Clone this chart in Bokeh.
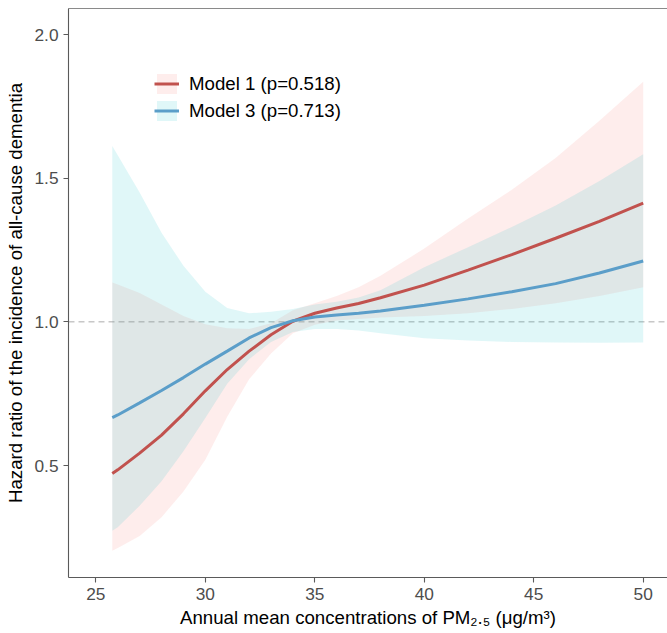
from bokeh.plotting import figure
from bokeh.models import (ColumnDataSource, Span, Legend, LegendItem, LinearAxis,
                          FixedTicker, PrintfTickFormatter, Range1d)
from bokeh.embed import file_html
from bokeh.resources import INLINE

# ---------------- data ----------------
pm25 = [25.75, 26, 27, 28, 29, 30, 31, 32, 33, 34, 35, 36, 37, 38, 40, 42, 44, 46, 48, 50]

m1_hr = [0.472, 0.485, 0.543, 0.606, 0.680, 0.760, 0.834, 0.898, 0.955, 1.002,
         1.030, 1.048, 1.064, 1.084, 1.128, 1.180, 1.234, 1.291, 1.350, 1.413]
m1_lo = [0.203, 0.213, 0.255, 0.320, 0.410, 0.520, 0.670, 0.800, 0.890, 0.960,
         0.990, 1.005, 1.010, 1.015, 1.020, 1.030, 1.045, 1.065, 1.090, 1.120]
m1_hi = [1.137, 1.130, 1.100, 1.060, 1.020, 0.992, 0.978, 0.975, 0.995, 1.040,
         1.065, 1.090, 1.120, 1.160, 1.255, 1.360, 1.460, 1.570, 1.700, 1.836]

m3_hr = [0.667, 0.676, 0.718, 0.761, 0.806, 0.853, 0.898, 0.944, 0.980, 1.004,
         1.017, 1.024, 1.030, 1.038, 1.058, 1.080, 1.105, 1.133, 1.170, 1.212]
m3_lo = [0.273, 0.285, 0.360, 0.445, 0.550, 0.665, 0.785, 0.870, 0.930, 0.965,
         0.975, 0.975, 0.970, 0.960, 0.943, 0.935, 0.930, 0.928, 0.927, 0.928]
m3_hi = [1.612, 1.580, 1.450, 1.310, 1.195, 1.105, 1.048, 1.030, 1.035, 1.045,
         1.060, 1.070, 1.085, 1.110, 1.190, 1.260, 1.330, 1.405, 1.490, 1.583]

labels = ["Model 1 (p=0.518)", "Model 3 (p=0.713)"]
x_ticks = [25, 30, 35, 40, 45, 50]
y_ticks = [0.5, 1.0, 1.5, 2.0]
ref_hr = 1.0
x_title = "Annual mean concentrations of PM\u2082.\u2085 (\u03bcg/m\u00b3)"
y_title = "Hazard ratio of the incidence of all-cause dementia"

# ---------------- styling ----------------
FONT = "Liberation Sans"
RED_LINE, BLUE_LINE = "#C1524E", "#5B9EC9"
RED_FILL, BLUE_FILL = "#F8766D", "#00BFC4"
AXIS_COL = "#5A5A5A"

p = figure(width=667, height=633, output_backend="svg", toolbar_location=None,
           x_range=Range1d(23.75, 51.11), y_range=Range1d(0.1103, 2.0905),
           min_border_left=68, min_border_right=0, min_border_top=8, min_border_bottom=56)
p.xgrid.visible = False
p.ygrid.visible = False
p.outline_line_color = None
p.background_fill_color = "white"
p.border_fill_color = "white"

src = ColumnDataSource(dict(x=pm25, m1=m1_hr, m1lo=m1_lo, m1hi=m1_hi,
                            m3=m3_hr, m3lo=m3_lo, m3hi=m3_hi))

b1 = p.varea(x="x", y1="m1lo", y2="m1hi", source=src, fill_color=RED_FILL, fill_alpha=0.13)
b3 = p.varea(x="x", y1="m3lo", y2="m3hi", source=src, fill_color=BLUE_FILL, fill_alpha=0.12)

p.add_layout(Span(location=ref_hr, dimension="width", line_color="#ABABAB",
                  line_width=1, line_dash="6 4", level="underlay"))

l1 = p.line(x="x", y="m1", source=src, line_color=RED_LINE, line_width=3)
l3 = p.line(x="x", y="m3", source=src, line_color=BLUE_LINE, line_width=3)

# axes
for ax in (p.xaxis[0], p.yaxis[0]):
    ax.axis_line_color = AXIS_COL
    ax.axis_line_width = 1.1
    ax.major_tick_line_color = AXIS_COL
    ax.major_tick_line_width = 1.1
    ax.major_tick_in = 0
    ax.major_tick_out = 5
    ax.minor_tick_line_color = None
    ax.major_label_standoff = 5
    ax.major_label_text_font = FONT
    ax.major_label_text_font_size = "17.3px"
    ax.major_label_text_color = "#4D4D4D"
    ax.axis_label_text_font = FONT
    ax.axis_label_text_font_size = "18.67px"
    ax.axis_label_text_font_style = "normal"
    ax.axis_label_text_color = "black"

p.xaxis.ticker = FixedTicker(ticks=x_ticks)
p.xaxis.formatter = PrintfTickFormatter(format="%d")
p.yaxis.ticker = FixedTicker(ticks=y_ticks)
p.yaxis.formatter = PrintfTickFormatter(format="%.1f")

p.xaxis.axis_label = x_title
p.xaxis.axis_label_standoff = 4
p.yaxis.axis_label = y_title
p.yaxis.axis_label_standoff = 5

# top border line
top = LinearAxis(ticker=FixedTicker(ticks=[]), major_tick_out=0, major_tick_in=0,
                 minor_tick_out=0, minor_tick_in=0, major_label_text_font_size="0px",
                 axis_line_color="#8A8A8A", axis_line_width=1.1)
p.add_layout(top, "above")

# legend
legend = Legend(items=[LegendItem(label=labels[0], renderers=[b1, l1]),
                       LegendItem(label=labels[1], renderers=[b3, l3])],
                location=(86, 454), glyph_width=25, glyph_height=25, label_height=25,
                label_text_font=FONT, label_text_font_size="18.67px", label_text_color="black",
                label_standoff=10, spacing=2, padding=0, margin=0,
                border_line_color=None, background_fill_alpha=0)
p.add_layout(legend)

open("out.html", "w").write(file_html(p, INLINE))
